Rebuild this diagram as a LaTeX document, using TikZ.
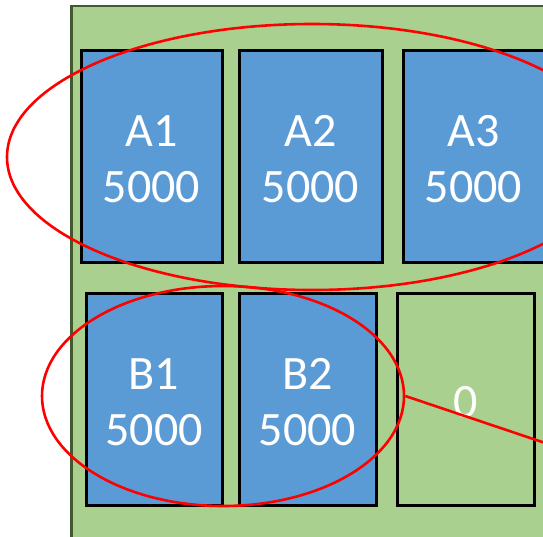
\documentclass[tikz,border=0pt]{standalone}
\usepackage{fontspec}
\setmainfont{Carlito}
\usetikzlibrary{shapes.geometric}
\definecolor{bgfill}{HTML}{A9D08E}
\definecolor{bgdraw}{HTML}{41592F}
\definecolor{boxblue}{HTML}{5B9BD5}
\tikzset{
  slot/.style={draw=black, line width=3pt, minimum width=#1, minimum height=212pt, inner sep=0pt},
  slot/.default=141pt,
  txt/.style={text=white, align=center, font=\fontsize{48}{56}\selectfont, yshift=-3pt, inner sep=0pt},
  full/.style={fill=boxblue},
  ring/.style={draw=red, line width=2.6pt, ellipse, inner sep=0pt},
}
\begin{document}
\begin{tikzpicture}[x=1pt,y=-1pt]
\useasboundingbox (0,0) rectangle (543,536);
\clip (0,0) rectangle (543,536);
\draw[fill=bgfill, draw=bgdraw, line width=2.6pt] (71.5,6) rectangle (600,600);
\node[slot=141pt, full, label={[txt]center:{A1\\5000}}] (a1) at (151.5,156) {};
\node[slot=143pt, full, label={[txt]center:{A2\\5000}}] (a2) at (310.5,156) {};
\node[slot=141pt, full, label={[txt]center:{A3\\5000}}] (a3) at (473.5,156) {};
\node[slot=136pt, full, label={[txt]center:{B1\\5000}}] (b1) at (154,399) {};
\node[slot=137pt, full, label={[txt]center:{B2\\5000}}] (b2) at (307.5,399) {};
\node[slot=137pt, label={[txt]center:{0}}] (z) at (465.5,399) {};
\node[ring, minimum width=610pt, minimum height=266pt] (e1) at (312,157) {};
\node[ring, minimum width=362pt, minimum height=220pt] (e2) at (223,396) {};
\coordinate (lineend) at (560,448);
\draw[red, line width=2.6pt] (e2.east) -- (lineend);
\end{tikzpicture}
\end{document}
